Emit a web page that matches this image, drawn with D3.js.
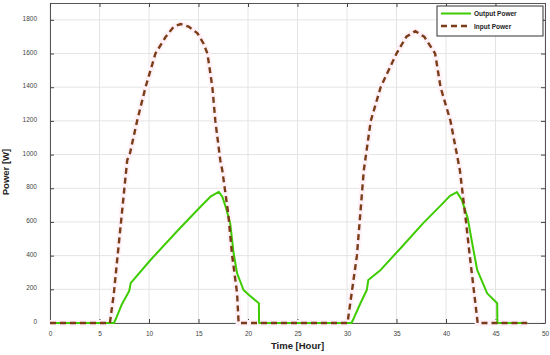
<!DOCTYPE html>
<html>
<head>
<meta charset="utf-8">
<script src="https://cdn.jsdelivr.net/npm/d3@7"></script>
<style>
  body { margin: 0; background: #fff; }
  text { font-family: "Liberation Sans", Arial, sans-serif; }
</style>
</head>
<body>
<div id="chart-area"></div>
<script>
// data (hours, watts)
var outputTime = [0, 6.45, 6.7, 7.25, 8.0, 8.06, 8.15, 10.15, 12.95, 15.2, 16.2, 17.05, 17.4, 17.8, 18.2, 18.55, 18.9, 19.55, 20.1, 21.1, 21.12,
                  30.45, 30.7, 31.3, 32.0, 32.05, 32.15, 33.4, 35.5, 37.7, 39.5, 40.4, 41.1, 41.6, 42.2, 42.65, 43.15, 44.16, 45.17, 45.19, 48.2];
var outputPower = [0, 0, 30, 110, 190, 208, 237, 374, 552, 690, 750, 779, 750, 680, 592, 414, 295, 196, 166, 117, 0,
                   0, 30, 110, 196, 215, 255, 315, 450, 593, 700, 755, 777, 730, 621, 473, 315, 176, 117, 0, 0];

var inputTime = [0, 6.05, 6.45, 6.8, 7.8, 8.05, 8.8, 9.65, 10.65, 11.7, 12.5, 13.2, 14.0, 14.9, 15.5, 15.9, 16.4, 16.7, 17.2, 17.4, 18.0, 18.4, 18.9, 19.05,
                 30.05, 31.0, 31.7, 32.4, 33.4, 35.0, 36.0, 36.9, 37.8, 38.9, 39.45, 40.45, 41.4, 42.0, 42.4, 42.8, 43.2, 48.2];
var inputPower = [0, 0, 176, 382, 967, 1000, 1200, 1400, 1600, 1700, 1760, 1775, 1760, 1720, 1660, 1600, 1400, 1200, 967, 908, 650, 400, 176, 0,
                  0, 400, 908, 1200, 1400, 1600, 1700, 1733, 1700, 1600, 1400, 1200, 908, 611, 400, 200, 0, 0];

var xTicks = [0, 5, 10, 15, 20, 25, 30, 35, 40, 45, 50];
var yTicks = [0, 200, 400, 600, 800, 1000, 1200, 1400, 1600, 1800];
var seriesNames = ["Output Power", "Input Power"];

var W = 550, H = 355;
var margin = { left: 50, right: 5, top: 3, bottom: 32 };
var width = W - margin.left - margin.right,
    height = H - margin.top - margin.bottom;

var svg = d3.select("#chart-area").append("svg")
    .attr("width", W)
    .attr("height", H);
var g = svg.append("g")
    .attr("transform", "translate(" + margin.left + "," + margin.top + ")");

// scales
var x = d3.scaleLinear().domain([0, 50]).range([0, width]);
var y = d3.scaleLinear().domain([0, 1900]).range([height, 0]);

// grid
g.selectAll(".vgrid").data(xTicks).enter().append("line")
    .attr("x1", function(d){ return x(d); }).attr("x2", function(d){ return x(d); })
    .attr("y1", 0).attr("y2", height)
    .attr("stroke", "#e4e4e4").attr("stroke-width", 1);
g.selectAll(".hgrid").data(yTicks).enter().append("line")
    .attr("x1", 0).attr("x2", width)
    .attr("y1", function(d){ return y(d); }).attr("y2", function(d){ return y(d); })
    .attr("stroke", "#e4e4e4").attr("stroke-width", 1);

// axes, ticks inside on all four sides
function styleAxis(sel) {
    sel.select(".domain").attr("stroke", "#555");
    sel.selectAll(".tick line").attr("stroke", "#444");
    sel.selectAll(".tick text").attr("fill", "#444").attr("font-size", "6.5px");
}
var fmt = d3.format("d");
g.append("g")
    .attr("transform", "translate(0," + height + ")")
    .call(d3.axisBottom(x).tickValues(xTicks).tickFormat(fmt).tickSizeInner(-4).tickSizeOuter(0).tickPadding(8))
    .call(styleAxis);
g.append("g")
    .call(d3.axisLeft(y).tickValues(yTicks).tickFormat(fmt).tickSizeInner(-4).tickSizeOuter(0).tickPadding(13))
    .call(styleAxis)
    .selectAll(".tick text").attr("dy", "0.1em");
g.append("g")
    .call(d3.axisTop(x).tickValues(xTicks).tickSizeInner(-4).tickSizeOuter(0).tickFormat(""))
    .call(styleAxis);
g.append("g")
    .attr("transform", "translate(" + width + ",0)")
    .call(d3.axisRight(y).tickValues(yTicks).tickSizeInner(-4).tickSizeOuter(0).tickFormat(""))
    .call(styleAxis);

// lines
var outLine = d3.line()
    .x(function(d, i){ return x(outputTime[i]); })
    .y(function(d){ return y(d); });
var inLine = d3.line()
    .x(function(d, i){ return x(inputTime[i]); })
    .y(function(d){ return y(d); });

// faint halo seen in the picture
g.append("path").attr("d", inLine(inputPower))
    .attr("fill", "none").attr("stroke", "#fef1f7").attr("stroke-width", 6);

g.append("path").attr("d", outLine(outputPower))
    .attr("fill", "none").attr("stroke", "#3ecc00").attr("stroke-width", 2)
    .attr("stroke-linejoin", "round");
g.append("path").attr("d", inLine(inputPower))
    .attr("fill", "none").attr("stroke", "#7a3d18").attr("stroke-width", 2.4)
    .attr("stroke-dasharray", "6,4");

// labels
svg.append("text")
    .attr("x", margin.left + width / 2).attr("y", 349)
    .attr("text-anchor", "middle")
    .attr("font-size", "9.5px").attr("font-weight", "bold").attr("fill", "#222")
    .text("Time [Hour]");
svg.append("text")
    .attr("transform", "translate(9,172) rotate(-90)")
    .attr("text-anchor", "middle")
    .attr("font-size", "9.5px").attr("font-weight", "bold").attr("fill", "#222")
    .text("Power [W]");

// legend
var leg = svg.append("g").attr("transform", "translate(437,6)");
leg.append("rect")
    .attr("width", 106).attr("height", 30)
    .attr("fill", "#fff").attr("stroke", "#333").attr("stroke-width", 1);
leg.append("line").attr("x1", 4).attr("x2", 34).attr("y1", 7.5).attr("y2", 7.5)
    .attr("stroke", "#3ecc00").attr("stroke-width", 2);
leg.append("line").attr("x1", 4).attr("x2", 34).attr("y1", 20).attr("y2", 20)
    .attr("stroke", "#7a3d18").attr("stroke-width", 2.4).attr("stroke-dasharray", "6,4");
leg.selectAll(".lt").data(seriesNames).enter().append("text")
    .attr("x", 37).attr("y", function(d, i){ return 10 + i * 12.5; })
    .attr("font-size", "6.5px").attr("font-weight", "bold").attr("fill", "#222")
    .text(function(d){ return d; });
</script>
</body>
</html>
